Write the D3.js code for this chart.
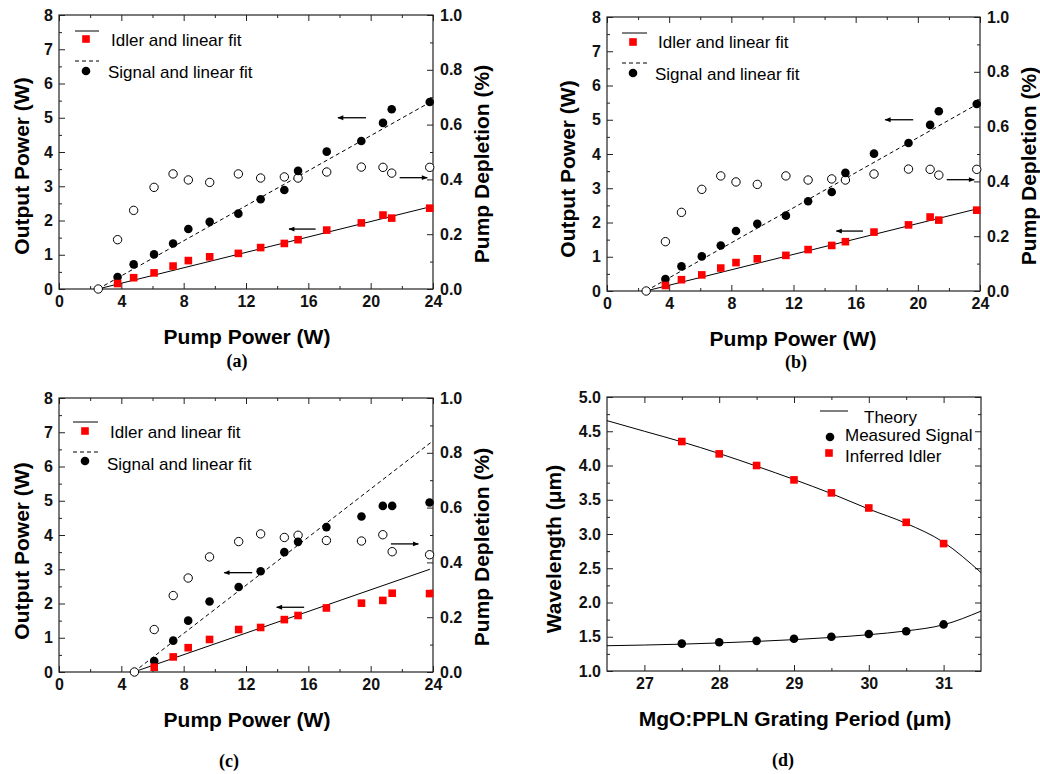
<!DOCTYPE html>
<html><head><meta charset="utf-8">
<script src="https://cdn.jsdelivr.net/npm/d3@7"></script>
<style>body{margin:0;background:#fff} svg{display:block}</style>
</head><body>
<svg id="chart" width="1040" height="774"></svg>
<script>
// ---------- DATA ----------
// Panels (a) and (b): output power vs pump power
const pumpAB      = [3.76,4.79,6.10,7.32,8.30,9.67,11.51,12.94,14.46,15.34,17.18,19.40,20.79,21.35,23.79];
const signalAB    = [0.35,0.72,1.01,1.33,1.75,1.96,2.20,2.62,2.89,3.45,4.01,4.32,4.85,5.25,5.46];
const idlerAB     = [0.16,0.33,0.47,0.67,0.83,0.94,1.04,1.21,1.33,1.44,1.72,1.93,2.16,2.07,2.36];
const depPumpAB   = [2.52,3.76,4.79,6.10,7.32,8.30,9.67,11.51,12.94,14.46,15.34,17.18,19.40,20.79,21.35,23.79];
const depletionAB = [0.0,0.18,0.287,0.371,0.42,0.398,0.389,0.42,0.405,0.409,0.405,0.427,0.445,0.444,0.423,0.444];
const fitPumpAB   = [2.5,24];
const signalFitAB = [0,5.5];
const idlerFitAB  = [0,2.42];

// Panel (c)
const pumpC       = [6.11,7.33,8.29,9.66,11.53,12.94,14.46,15.34,17.16,19.41,20.78,21.38,23.78];
const signalC     = [0.32,0.915,1.50,2.06,2.48,2.94,3.50,3.80,4.23,4.54,4.85,4.85,4.95];
const idlerC      = [0.14,0.44,0.71,0.95,1.24,1.30,1.53,1.65,1.87,2.01,2.09,2.30,2.29];
const depPumpC    = [4.84,6.11,7.33,8.29,9.66,11.53,12.94,14.46,15.34,17.16,19.41,20.78,21.38,23.78];
const depletionC  = [0.0,0.155,0.279,0.343,0.42,0.476,0.504,0.491,0.499,0.48,0.478,0.501,0.439,0.428];
const fitPumpSigC = [4.8,24];
const signalFitC  = [0,6.75];
const fitPumpIdlC = [4.8,23.8];
const idlerFitC   = [0,3.0];

// Panel (d): wavelength vs grating period
const gratingPeriod  = [27.5,28,28.5,29,29.5,30,30.5,31];
const measuredSignal = [1.40,1.42,1.44,1.47,1.50,1.54,1.58,1.68];
const inferredIdler  = [4.35,4.17,4.00,3.79,3.60,3.38,3.17,2.86];
const theoryPeriod   = [26.5,27,27.5,28,28.5,29,29.5,30,30.5,31,31.5];
const theorySignal   = [1.369,1.379,1.392,1.41,1.432,1.458,1.49,1.53,1.585,1.675,1.874];
const theoryIdler    = [4.655,4.50,4.345,4.175,3.99,3.796,3.59,3.364,3.155,2.879,2.437];

// Ticks
const pumpTicks   = [0,4,8,12,16,20,24];
const pumpMinor   = [2,6,10,14,18,22];
const powerTicks  = [0,1,2,3,4,5,6,7,8];
const powerMinor  = [0.5,1.5,2.5,3.5,4.5,5.5,6.5,7.5];
const depTicks    = [0,0.2,0.4,0.6,0.8,1.0];
const depMinor    = [0.1,0.3,0.5,0.7,0.9];
const periodTicks = [27,28,29,30,31];
const periodMinor = [27.5,28.5,29.5,30.5];
const waveTicks   = [1.0,1.5,2.0,2.5,3.0,3.5,4.0,4.5,5.0];
const waveMinor   = [1.25,1.75,2.25,2.75,3.25,3.75,4.25,4.75];

// ---------- DRAWING ----------
const svg = d3.select("#chart");
const SANS = "'Liberation Sans', Arial, Helvetica, sans-serif";
const SERIF = "'Liberation Serif', 'Times New Roman', serif";
const RED = "#ff0000";

svg.append("defs").append("marker")
  .attr("id","arrowhead").attr("viewBox","0 0 10 10").attr("refX",9).attr("refY",5)
  .attr("markerWidth",7).attr("markerHeight",6).attr("markerUnits","userSpaceOnUse").attr("orient","auto")
  .append("path").attr("d","M0,1 L10,5 L0,9 Z").attr("fill","#000");

function styleAxis(sel){
  sel.select(".domain").remove();
  sel.selectAll("line").attr("stroke","#222").attr("stroke-width",1);
  sel.selectAll("text").attr("font-family",SANS).attr("font-weight","bold")
     .attr("font-size",16).attr("fill","#111");
}

function makePanel(cfg){
  const g = svg.append("g");
  const x = d3.scaleLinear().domain(cfg.xDomain).range([cfg.L,cfg.R]);
  const y = d3.scaleLinear().domain(cfg.yDomain).range([cfg.B,cfg.T]);
  const y2 = cfg.y2Domain ? d3.scaleLinear().domain(cfg.y2Domain).range([cfg.B,cfg.T]) : y;
  const ax = g.append("g");
  // bottom
  ax.append("g").attr("transform",`translate(0,${cfg.B})`)
    .call(d3.axisBottom(x).tickValues(cfg.xTicks).tickSize(-6).tickSizeOuter(0).tickPadding(7).tickFormat(cfg.xFmt)).call(styleAxis);
  ax.append("g").attr("transform",`translate(0,${cfg.B})`)
    .call(d3.axisBottom(x).tickValues(cfg.xMinor).tickSize(-3).tickSizeOuter(0).tickFormat("")).call(styleAxis);
  // top
  ax.append("g").attr("transform",`translate(0,${cfg.T})`)
    .call(d3.axisTop(x).tickValues(cfg.xTicks).tickSize(-6).tickSizeOuter(0).tickFormat("")).call(styleAxis);
  ax.append("g").attr("transform",`translate(0,${cfg.T})`)
    .call(d3.axisTop(x).tickValues(cfg.xMinor).tickSize(-3).tickSizeOuter(0).tickFormat("")).call(styleAxis);
  // left
  ax.append("g").attr("transform",`translate(${cfg.L},0)`)
    .call(d3.axisLeft(y).tickValues(cfg.yTicks).tickSize(-6).tickSizeOuter(0).tickPadding(6).tickFormat(cfg.yFmt)).call(styleAxis);
  ax.append("g").attr("transform",`translate(${cfg.L},0)`)
    .call(d3.axisLeft(y).tickValues(cfg.yMinor).tickSize(-3).tickSizeOuter(0).tickFormat("")).call(styleAxis);
  // right
  ax.append("g").attr("transform",`translate(${cfg.R},0)`)
    .call(d3.axisRight(y2).tickValues(cfg.y2Ticks).tickSize(-6).tickSizeOuter(0).tickPadding(7).tickFormat(cfg.y2Fmt)).call(styleAxis);
  ax.append("g").attr("transform",`translate(${cfg.R},0)`)
    .call(d3.axisRight(y2).tickValues(cfg.y2Minor).tickSize(-3).tickSizeOuter(0).tickFormat("")).call(styleAxis);
  // frame
  g.append("rect").attr("x",cfg.L).attr("y",cfg.T).attr("width",cfg.R-cfg.L).attr("height",cfg.B-cfg.T)
    .attr("fill","none").attr("stroke","#222").attr("stroke-width",1.2);
  // titles
  g.append("text").attr("x",cfg.xTitle[0]).attr("y",cfg.xTitle[1]).attr("text-anchor","middle")
    .attr("dominant-baseline","central").attr("font-family",SANS).attr("font-weight","bold").attr("font-size",21)
    .text(cfg.xLabel);
  g.append("text").attr("transform",`translate(${cfg.yTitle[0]},${cfg.yTitle[1]}) rotate(-90)`).attr("text-anchor","middle")
    .attr("dominant-baseline","central").attr("font-family",SANS).attr("font-weight","bold").attr("font-size",21)
    .text(cfg.yLabel);
  if (cfg.y2Label){
    g.append("text").attr("transform",`translate(${cfg.y2Title[0]},${cfg.y2Title[1]}) rotate(-90)`).attr("text-anchor","middle")
      .attr("dominant-baseline","central").attr("font-family",SANS).attr("font-weight","bold").attr("font-size",21)
      .text(cfg.y2Label);
  }
  g.append("text").attr("x",cfg.caption[0]).attr("y",cfg.caption[1]).attr("text-anchor","middle")
    .attr("dominant-baseline","central").attr("font-family",SERIF).attr("font-weight","bold").attr("font-size",18)
    .text(cfg.captionText);
  return {g,x,y,y2};
}

function line(g, x, y, xs, ys, dashed, curve){
  const gen = d3.line().x(d=>x(d[0])).y(d=>y(d[1]));
  if (curve) gen.curve(curve);
  g.append("path").datum(xs.map((v,i)=>[v,ys[i]])).attr("d",gen)
    .attr("fill","none").attr("stroke","#000").attr("stroke-width",1)
    .attr("stroke-dasharray",dashed?"4,3":null);
}
function circles(g, x, y, xs, ys, open){
  g.append("g").selectAll("circle").data(xs.map((v,i)=>[v,ys[i]])).join("circle")
    .attr("cx",d=>x(d[0])).attr("cy",d=>y(d[1])).attr("r",open?4.2:4.3)
    .attr("fill",open?"#fff":"#000").attr("stroke","#000").attr("stroke-width",open?1:0);
}
function squares(g, x, y, xs, ys){
  const s = 7.6;
  g.append("g").selectAll("rect").data(xs.map((v,i)=>[v,ys[i]])).join("rect")
    .attr("x",d=>x(d[0])-s/2).attr("y",d=>y(d[1])-s/2).attr("width",s).attr("height",s).attr("fill",RED);
}
function arrow(g, x, y, x1, x2, yv){
  g.append("line").attr("x1",x(x1)).attr("x2",x(x2)).attr("y1",y(yv)).attr("y2",y(yv))
    .attr("stroke","#000").attr("stroke-width",1.3).attr("marker-end","url(#arrowhead)");
}
function legendPower(g, lg){
  // idler row
  g.append("line").attr("x1",lg.lx[0]).attr("x2",lg.lx[1]).attr("y1",lg.l1).attr("y2",lg.l1).attr("stroke","#000").attr("stroke-width",1);
  g.append("rect").attr("x",lg.mx-3.8).attr("y",lg.m1-3.8).attr("width",7.6).attr("height",7.6).attr("fill",RED);
  g.append("text").attr("x",lg.t1[0]).attr("y",lg.t1[1]).attr("dominant-baseline","central")
    .attr("font-family",SANS).attr("font-size",17).text("Idler and linear fit");
  // signal row
  g.append("line").attr("x1",lg.lx[0]).attr("x2",lg.lx[1]).attr("y1",lg.l2).attr("y2",lg.l2).attr("stroke","#000").attr("stroke-width",1).attr("stroke-dasharray","4,3");
  g.append("circle").attr("cx",lg.mx).attr("cy",lg.m2).attr("r",4.3).attr("fill","#000");
  g.append("text").attr("x",lg.t2[0]).attr("y",lg.t2[1]).attr("dominant-baseline","central")
    .attr("font-family",SANS).attr("font-size",17).text("Signal and linear fit");
}

const powerCfg = {
  xDomain:[0,24], yDomain:[0,8], y2Domain:[0,1],
  xTicks:pumpTicks, xMinor:pumpMinor, yTicks:powerTicks, yMinor:powerMinor,
  y2Ticks:depTicks, y2Minor:depMinor,
  xFmt:d3.format("d"), yFmt:d3.format("d"), y2Fmt:d3.format(".1f"),
  xLabel:"Pump Power (W)", yLabel:"Output Power (W)", y2Label:"Pump Depletion (%)"
};

function powerPanel(box, dat){
  const p = makePanel(Object.assign({}, powerCfg, box));
  const {g,x,y,y2} = p;
  line(g,x,y,dat.fitX,dat.idlFit,false);
  line(g,x,y,dat.fitXs,dat.sigFit,true);
  circles(g,x,y2,dat.depX,dat.dep,true);
  circles(g,x,y,dat.px,dat.sig,false);
  squares(g,x,y,dat.px,dat.idl);
  arrow(g,x,y,dat.arrows[0][1],dat.arrows[0][0],dat.arrows[0][2]);
  arrow(g,x,y,dat.arrows[1][1],dat.arrows[1][0],dat.arrows[1][2]);
  arrow(g,x,y,dat.arrows[2][0],dat.arrows[2][1],dat.arrows[2][2]);
  legendPower(g, box.legend);
}

// (a)
powerPanel({L:59,R:433,T:15,B:289, xTitle:[247,336], yTitle:[21,166], y2Title:[481,164], caption:[237,361], captionText:"(a)",
  legend:{lx:[75,99], l1:31, l2:61, mx:86, m1:39, m2:71, t1:[111,40], t2:[108,72]}},
  {px:pumpAB, sig:signalAB, idl:idlerAB, depX:depPumpAB, dep:depletionAB,
   fitX:fitPumpAB, idlFit:idlerFitAB, fitXs:fitPumpAB, sigFit:signalFitAB,
   arrows:[[17.9,19.7,5.0],[14.76,16.47,1.75],[21.86,23.63,3.25]]});
// (b)
powerPanel({L:607,R:980,T:17,B:291, xTitle:[793,338], yTitle:[567,169], y2Title:[1028,166], caption:[796,362], captionText:"(b)",
  legend:{lx:[622,647], l1:33, l2:63, mx:633, m1:42, m2:73, t1:[658,42], t2:[655,74]}},
  {px:pumpAB, sig:signalAB, idl:idlerAB, depX:depPumpAB, dep:depletionAB,
   fitX:fitPumpAB, idlFit:idlerFitAB, fitXs:fitPumpAB, sigFit:signalFitAB,
   arrows:[[17.9,19.7,5.0],[14.76,16.47,1.75],[21.86,23.63,3.25]]});
// (c)
powerPanel({L:59,R:433,T:398,B:672, xTitle:[247,719], yTitle:[21,551], y2Title:[481,547], caption:[229,761], captionText:"(c)",
  legend:{lx:[73,98], l1:422, l2:452, mx:85, m1:431, m2:461, t1:[110,432], t2:[107,464]}},
  {px:pumpC, sig:signalC, idl:idlerC, depX:depPumpC, dep:depletionC,
   fitX:fitPumpIdlC, idlFit:idlerFitC, fitXs:fitPumpSigC, sigFit:signalFitC,
   arrows:[[10.6,12.4,2.9],[13.97,15.73,1.89],[21.3,23.06,3.74]]});

// (d)
(function(){
  const p = makePanel({L:607,R:981,T:397,B:671, xDomain:[26.5,31.5], yDomain:[1,5],
    xTicks:periodTicks, xMinor:periodMinor, yTicks:waveTicks, yMinor:waveMinor,
    y2Ticks:waveTicks, y2Minor:waveMinor,
    xFmt:d3.format("d"), yFmt:d3.format(".1f"), y2Fmt:"",
    xLabel:"MgO:PPLN Grating Period (\u03bcm)", yLabel:"Wavelength (\u03bcm)",
    xTitle:[795,718], yTitle:[553,549], caption:[783,760], captionText:"(d)"});
  const {g,x,y} = p;
  line(g,x,y,theoryPeriod,theoryIdler,false,d3.curveMonotoneX);
  line(g,x,y,theoryPeriod,theorySignal,false,d3.curveMonotoneX);
  circles(g,x,y,gratingPeriod,measuredSignal,false);
  squares(g,x,y,gratingPeriod,inferredIdler);
  // legend
  g.append("line").attr("x1",820).attr("x2",848).attr("y1",411).attr("y2",411).attr("stroke","#000").attr("stroke-width",1);
  g.append("text").attr("x",864).attr("y",417).attr("dominant-baseline","central").attr("font-family",SANS).attr("font-size",17).text("Theory");
  g.append("circle").attr("cx",830).attr("cy",437).attr("r",4.3).attr("fill","#000");
  g.append("text").attr("x",845).attr("y",435).attr("dominant-baseline","central").attr("font-family",SANS).attr("font-size",17).text("Measured Signal");
  g.append("rect").attr("x",829-3.8).attr("y",453-3.8).attr("width",7.6).attr("height",7.6).attr("fill",RED);
  g.append("text").attr("x",845).attr("y",456).attr("dominant-baseline","central").attr("font-family",SANS).attr("font-size",17).text("Inferred Idler");
})();
</script>
</body></html>
